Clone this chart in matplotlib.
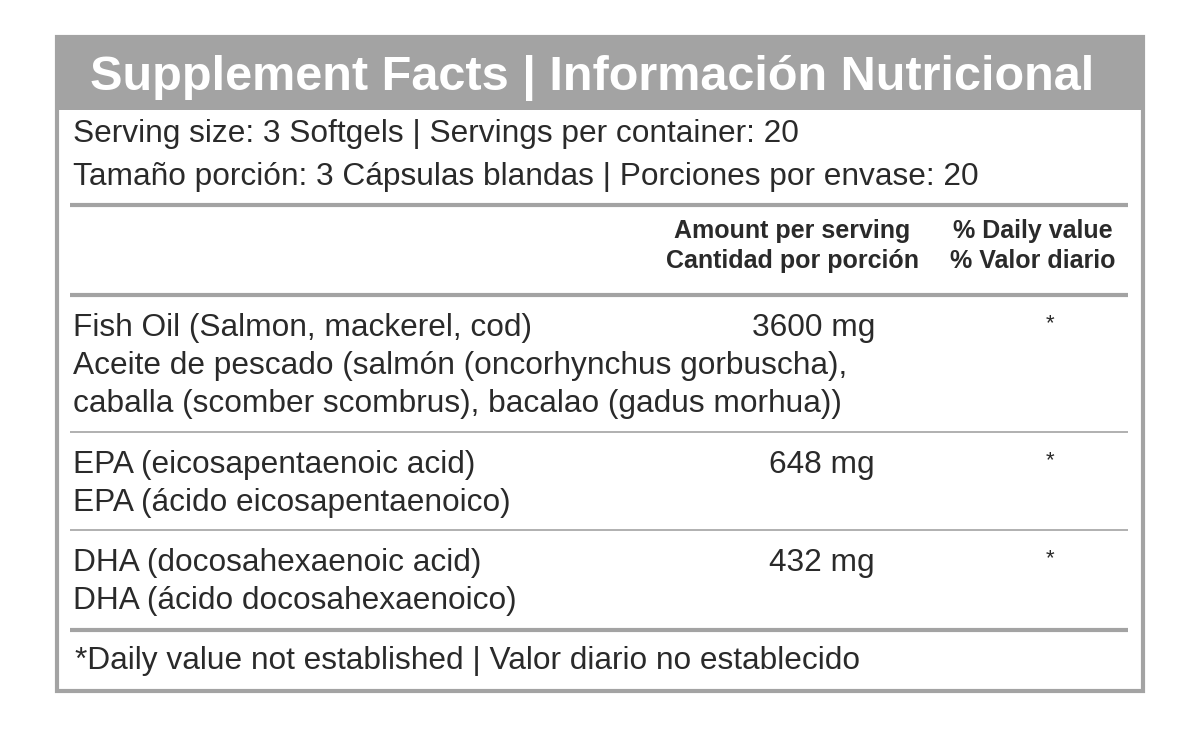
import matplotlib.pyplot as plt
from matplotlib.patches import Rectangle

title = 'Supplement Facts | Información Nutricional'
serving_lines = ['Serving size: 3 Softgels | Servings per container: 20',
                 'Tamaño porción: 3 Cápsulas blandas | Porciones por envase: 20']
col_amount = ['Amount per serving', 'Cantidad por porción']
col_dv = ['% Daily value', '% Valor diario']
names = [
    ['Fish Oil (Salmon, mackerel, cod)',
     'Aceite de pescado (salmón (oncorhynchus gorbuscha),',
     'caballa (scomber scombrus), bacalao (gadus morhua))'],
    ['EPA (eicosapentaenoic acid)', 'EPA (ácido eicosapentaenoico)'],
    ['DHA (docosahexaenoic acid)', 'DHA (ácido docosahexaenoico)'],
]
amounts = ['3600 mg', '648 mg', '432 mg']
daily = ['*', '*', '*']
footnote = '*Daily value not established | Valor diario no establecido'

row_tops = [310, 447, 545]
regular = ['Liberation Sans', 'DejaVu Sans']
txt = '#2a2a2a'
grey = '#a3a3a3'
body = 22.8

fig = plt.figure(figsize=(12, 7.29), dpi=100)
ax = fig.add_axes([0, 0, 1, 1])
ax.set_xlim(0, 1200)
ax.set_ylim(729, 0)
ax.axis('off')

# outer box and header band
ax.add_patch(Rectangle((57, 37), 1086, 654, fill=False, ec=grey, lw=3))
ax.add_patch(Rectangle((57, 37), 1086, 73, fc=grey, ec='none'))
ax.text(592, 78, title, color='white', fontsize=35, fontweight='bold',
        family=regular, ha='center', va='center')

for i, s in enumerate(serving_lines):
    ax.text(73, 134 + i * 43, s, fontsize=body, family=regular, color=txt, va='center')

# rules
for y, w in [(205, 3), (295, 3), (432, 1.2), (530, 1.2), (630, 3)]:
    ax.plot([70, 1128], [y, y], color=grey, lw=w, solid_capstyle='butt')

for i, (a, d) in enumerate(zip(col_amount, col_dv)):
    ax.text(792, 231 + i * 30, a, fontsize=18, fontweight='bold', family=regular,
            color=txt, ha='center', va='center')
    ax.text(1033, 231 + i * 30, d, fontsize=18, fontweight='bold', family=regular,
            color=txt, ha='center', va='center')

for top, lines, amt, dv in zip(row_tops, names, amounts, daily):
    for j, s in enumerate(lines):
        ax.text(73, top + 18 + j * 38, s, fontsize=body, family=regular, color=txt, va='center')
    ax.text(875, top + 18, amt, fontsize=body, family=regular, color=txt, ha='right', va='center')
    ax.text(1050, top + 14, dv, fontsize=16, family=regular, color=txt, ha='center', va='center')

ax.text(75, 661, footnote, fontsize=body, family=regular, color=txt, va='center')

fig.savefig('out.png', dpi=100)
